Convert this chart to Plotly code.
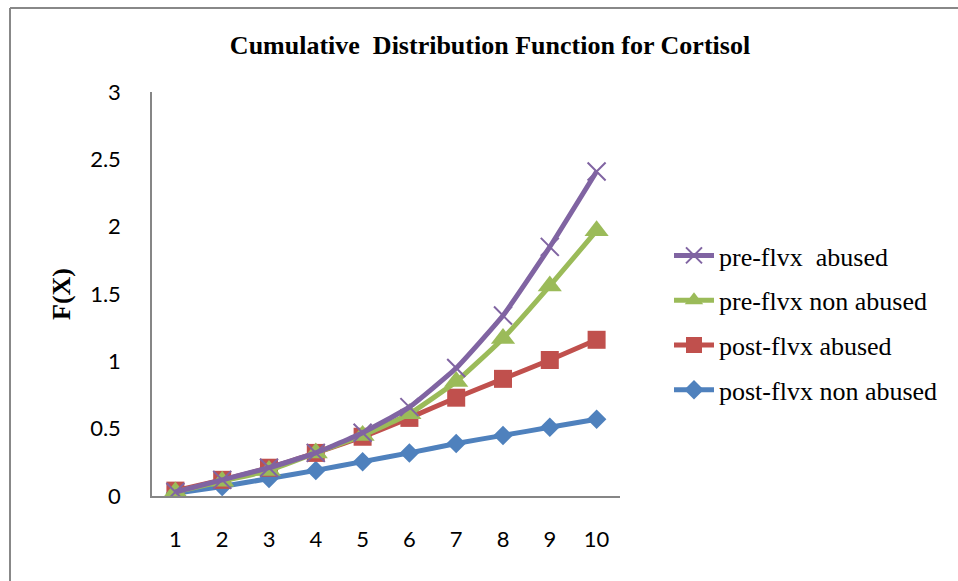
import plotly.graph_objects as go

categories = [1, 2, 3, 4, 5, 6, 7, 8, 9, 10]
post_non_abused = [0.02, 0.07, 0.13, 0.19, 0.255, 0.32, 0.39, 0.45, 0.51, 0.57]
post_abused = [0.04, 0.12, 0.21, 0.32, 0.44, 0.58, 0.73, 0.87, 1.01, 1.16]
pre_non_abused = [0.03, 0.11, 0.19, 0.32, 0.45, 0.61, 0.85, 1.17, 1.56, 1.97]
pre_abused = [0.03, 0.12, 0.21, 0.32, 0.47, 0.66, 0.95, 1.34, 1.85, 2.41]
y_ticks = [0, 0.5, 1, 1.5, 2, 2.5, 3]
y_ticktext = ["0", "0.5", "1", "1.5", "2", "2.5", "3"]

W, H = 958, 581
L, R, T, B = 152, 620, 92, 496

series = [
    ("post-flvx non abused", post_non_abused, "#4F81BD", dict(symbol="diamond", size=15), 4),
    ("post-flvx abused", post_abused, "#C0504D", dict(symbol="square", size=18), 3),
    ("pre-flvx non abused", pre_non_abused, "#9BBB59", dict(symbol="triangle-up", size=21), 2),
    ("pre-flvx  abused", pre_abused, "#8064A2", dict(symbol="x-thin-open", size=18), 1),
]

fig = go.Figure()
for i, (name, vals, col, mk, rank) in enumerate(series):
    m = dict(color=col, **mk)
    m["line"] = dict(width=2 if mk["symbol"].startswith("x") else 0, color=col)
    fig.add_trace(go.Scatter(
        x=categories, y=vals, name=name, mode="lines+markers",
        line=dict(color=col, width=5, shape="spline", smoothing=0.4),
        marker=m, legendgroup=f"g{i}", legendrank=rank,
    ))

def px_x(p):
    return (p - L) / (R - L)

def px_y(p):
    return (B - p) / (B - T)

fig.update_layout(
    width=W, height=H,
    margin=dict(l=L, r=W - R, t=T, b=H - B),
    paper_bgcolor="white", plot_bgcolor="white",
    title=dict(
        text="<b>Cumulative  Distribution Function for Cortisol</b>",
        font=dict(family="Liberation Serif", size=26, color="black"),
        x=490 / W, xref="container", xanchor="center",
        y=1 - 45 / H, yref="container", yanchor="middle",
    ),
    xaxis=dict(
        range=[0.5, 10.5], tickmode="array", tickvals=categories,
        ticktext=[str(c) for c in categories],
        showgrid=False, zeroline=False, showline=True,
        linecolor="#868686", linewidth=1.5, ticks="",
        ticklabelstandoff=23,
        tickfont=dict(family="Lato", size=22, color="black"),
    ),
    yaxis=dict(
        range=[0, 3], tickmode="array", tickvals=y_ticks, ticktext=y_ticktext,
        showgrid=False, zeroline=False, showline=True,
        linecolor="#868686", linewidth=1.5, ticks="",
        ticklabelstandoff=25,
        tickfont=dict(family="Lato", size=22, color="black"),
    ),
    legend=dict(
        x=px_x(669), xanchor="left", y=px_y(232), yanchor="top",
        traceorder="grouped", tracegroupgap=8,
        font=dict(family="Liberation Serif", size=26, color="black"),
        bgcolor="rgba(0,0,0,0)", itemwidth=40,
    ),
    showlegend=True,
    annotations=[dict(
        text="<b>F(X)</b>", textangle=-90, showarrow=False,
        xref="paper", yref="paper", x=px_x(61), y=px_y(294),
        xanchor="center", yanchor="middle",
        font=dict(family="Liberation Serif", size=26, color="black"),
    )],
    shapes=[
        dict(type="line", xref="paper", yref="paper",
             x0=px_x(10), x1=px_x(10), y0=px_y(8), y1=px_y(600),
             line=dict(color="#888888", width=2)),
        dict(type="line", xref="paper", yref="paper",
             x0=px_x(10), x1=px_x(970), y0=px_y(8), y1=px_y(8),
             line=dict(color="#888888", width=2)),
    ],
)

fig.write_html("out.html")
